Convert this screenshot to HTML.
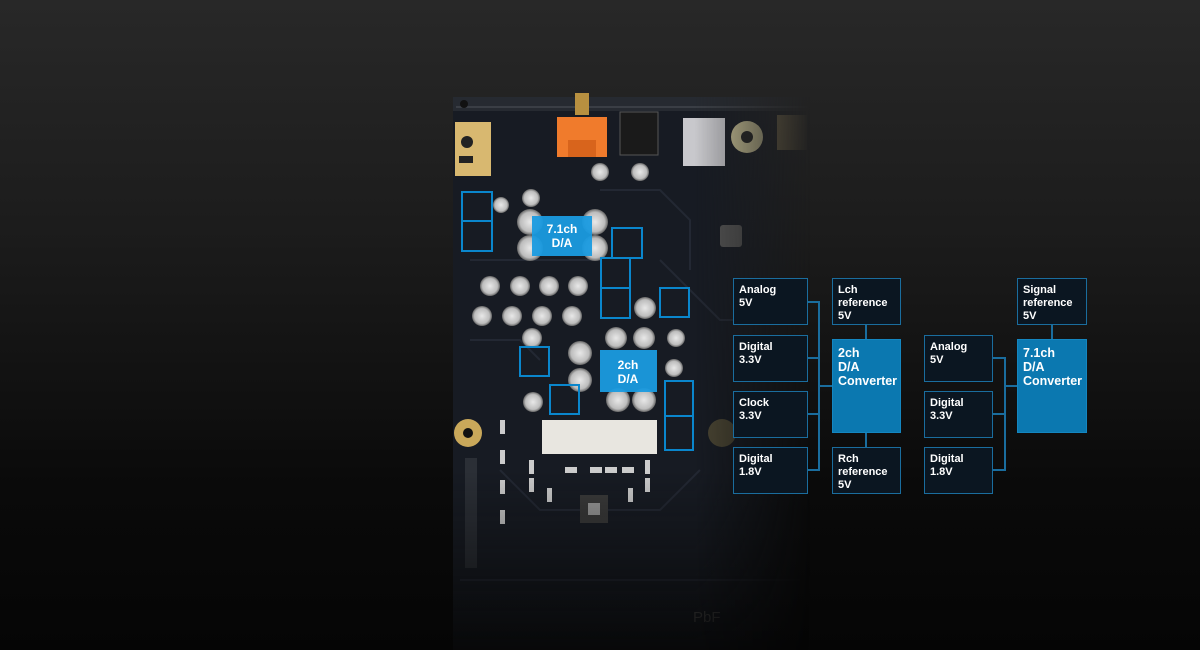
<!DOCTYPE html>
<html><head><meta charset="utf-8"><style>
html,body{margin:0;padding:0}
body{width:1200px;height:650px;overflow:hidden;position:relative;background:linear-gradient(#282828 0%,#1c1c1c 35%,#0a0a0a 75%,#050505 100%);font-family:"Liberation Sans",sans-serif}
.b{position:absolute;box-sizing:border-box;border:1.5px solid #1a6d9e;background:#0b1621;color:#fff;font-weight:bold;font-size:11px;line-height:13px;padding:5px 0 0 5px}
.c{background:#0b78b0;border-color:#1486c0;font-size:12.5px;line-height:14px;padding:6px 0 0 5px}
.l{position:absolute;background:#1a6d9e}
</style></head><body>
<svg width="1200" height="650" style="position:absolute;left:0;top:0">
<defs>
<linearGradient id="fade" x1="0" x2="1" y1="0" y2="0">
<stop offset="0" stop-color="#fff" stop-opacity="1"/>
<stop offset="0.68" stop-color="#fff" stop-opacity="1"/>
<stop offset="1" stop-color="#fff" stop-opacity="0"/>
</linearGradient>
<linearGradient id="fadev" x1="0" x2="0" y1="0" y2="1">
<stop offset="0" stop-color="#fff" stop-opacity="1"/>
<stop offset="0.68" stop-color="#fff" stop-opacity="1"/>
<stop offset="1" stop-color="#fff" stop-opacity="0.15"/>
</linearGradient>
<mask id="m"><rect x="450" y="90" width="360" height="560" fill="url(#fade)"/></mask>
<mask id="m2"><rect x="450" y="90" width="360" height="560" fill="url(#fadev)"/></mask>
<radialGradient id="cap"><stop offset="0" stop-color="#e8e8e8"/><stop offset="0.75" stop-color="#bdbdbd"/><stop offset="1" stop-color="#666"/></radialGradient>
</defs>
<g mask="url(#m)"><g mask="url(#m2)">
<rect x="453" y="97" width="360" height="560" rx="8" fill="#171b23"/>
<rect x="453" y="97" width="360" height="14" fill="#262a31"/>
<rect x="456" y="106" width="354" height="2" fill="#3a3e45"/>
<circle cx="464" cy="104" r="4" fill="#111"/>
<g stroke="#232833" stroke-width="2" fill="none">
<path d="M600 190 L660 190 L690 220 L690 270"/><path d="M660 260 L720 320 L740 320"/>
<path d="M470 260 L600 260"/><path d="M470 340 L520 340 L540 360"/>
<path d="M500 470 L540 510 L660 510 L700 470"/><path d="M460 580 L800 580"/>
</g>
<rect x="455" y="122" width="36" height="54" fill="#d8b870"/>
<circle cx="467" cy="142" r="6" fill="#222"/>
<rect x="459" y="156" width="14" height="7" fill="#222"/>
<rect x="575" y="93" width="14" height="22" fill="#b89040"/>
<rect x="557" y="117" width="50" height="40" fill="#f07b2c"/>
<rect x="568" y="140" width="28" height="17" fill="#d8641c"/>
<rect x="620" y="112" width="38" height="43" fill="#1a1a1a" stroke="#555"/>
<rect x="683" y="118" width="42" height="48" fill="#c8c8cc"/>
<circle cx="747" cy="137" r="16" fill="#cfc79a"/><circle cx="747" cy="137" r="6" fill="#222"/>
<rect x="777" y="115" width="30" height="35" fill="#8a7a55"/>
<rect x="720" y="225" width="22" height="22" rx="3" fill="#555"/>
<g fill="url(#cap)">
<circle cx="600" cy="172" r="9"/><circle cx="640" cy="172" r="9"/>
<circle cx="531" cy="198" r="9"/><circle cx="501" cy="205" r="8"/>
<circle cx="530" cy="222" r="13"/><circle cx="595" cy="222" r="13"/>
<circle cx="530" cy="248" r="13"/><circle cx="595" cy="248" r="13"/>
<circle cx="490" cy="286" r="10"/><circle cx="520" cy="286" r="10"/><circle cx="549" cy="286" r="10"/><circle cx="578" cy="286" r="10"/>
<circle cx="482" cy="316" r="10"/><circle cx="512" cy="316" r="10"/><circle cx="542" cy="316" r="10"/><circle cx="572" cy="316" r="10"/>
<circle cx="645" cy="308" r="11"/><circle cx="616" cy="338" r="11"/><circle cx="644" cy="338" r="11"/>
<circle cx="532" cy="338" r="10"/><circle cx="580" cy="353" r="12"/><circle cx="580" cy="380" r="12"/>
<circle cx="676" cy="338" r="9"/><circle cx="674" cy="368" r="9"/>
<circle cx="533" cy="402" r="10"/><circle cx="618" cy="400" r="12"/><circle cx="644" cy="400" r="12"/>
</g>
<rect x="542" y="420" width="115" height="34" fill="#e8e6e0"/>
<g fill="#ccc"><rect x="565" y="467" width="12" height="6"/><rect x="590" y="467" width="12" height="6"/><rect x="605" y="467" width="12" height="6"/><rect x="622" y="467" width="12" height="6"/>
<rect x="529" y="460" width="5" height="14"/><rect x="529" y="478" width="5" height="14"/><rect x="645" y="460" width="5" height="14"/><rect x="645" y="478" width="5" height="14"/>
<rect x="547" y="488" width="5" height="14"/><rect x="628" y="488" width="5" height="14"/><rect x="500" y="420" width="5" height="14"/><rect x="500" y="450" width="5" height="14"/><rect x="500" y="480" width="5" height="14"/><rect x="500" y="510" width="5" height="14"/></g>
<circle cx="468" cy="433" r="14" fill="#c9a85a"/><circle cx="468" cy="433" r="5" fill="#111"/>
<circle cx="722" cy="433" r="14" fill="#4a4533"/>
<rect x="580" y="495" width="28" height="28" fill="#3a3a3a"/><rect x="588" y="503" width="12" height="12" fill="#999"/>
<rect x="465" y="458" width="12" height="110" fill="#2b2f36"/>
<text x="693" y="622" fill="#555" font-size="15" font-family="Liberation Sans">PbF</text>
<g fill="none" stroke="#0a86cc" stroke-width="2">
<rect x="462" y="192" width="30" height="29"/><rect x="462" y="221" width="30" height="30"/>
<rect x="612" y="228" width="30" height="30"/><rect x="601" y="258" width="29" height="30"/><rect x="601" y="288" width="29" height="30"/>
<rect x="660" y="288" width="29" height="29"/><rect x="520" y="347" width="29" height="29"/><rect x="550" y="385" width="29" height="29"/>
<rect x="665" y="381" width="28" height="35"/><rect x="665" y="416" width="28" height="34"/>
</g>
</g></g>
<rect x="532" y="216" width="60" height="40" fill="#1a9be0" opacity="0.95"/>
<text x="562" y="233" fill="#fff" font-size="12" font-weight="bold" text-anchor="middle">7.1ch</text>
<text x="562" y="247" fill="#fff" font-size="12" font-weight="bold" text-anchor="middle">D/A</text>
<rect x="600" y="350" width="57" height="42" fill="#1a9be0" opacity="0.95"/>
<text x="628" y="369" fill="#fff" font-size="12" font-weight="bold" text-anchor="middle">2ch</text>
<text x="628" y="383" fill="#fff" font-size="12" font-weight="bold" text-anchor="middle">D/A</text>
</svg>

<div class="l" style="left:808px;top:301px;width:11px;height:2px"></div>
<div class="l" style="left:808px;top:357px;width:11px;height:2px"></div>
<div class="l" style="left:808px;top:413px;width:11px;height:2px"></div>
<div class="l" style="left:808px;top:469px;width:11px;height:2px"></div>
<div class="l" style="left:818px;top:301px;width:2px;height:170px"></div>
<div class="l" style="left:818px;top:385px;width:14px;height:2px"></div>
<div class="l" style="left:865px;top:325px;width:2px;height:14px"></div>
<div class="l" style="left:865px;top:433px;width:2px;height:14px"></div>
<div class="l" style="left:993px;top:357px;width:12px;height:2px"></div>
<div class="l" style="left:993px;top:413px;width:12px;height:2px"></div>
<div class="l" style="left:993px;top:469px;width:12px;height:2px"></div>
<div class="l" style="left:1004px;top:357px;width:2px;height:114px"></div>
<div class="l" style="left:1004px;top:385px;width:13px;height:2px"></div>
<div class="l" style="left:1051px;top:325px;width:2px;height:14px"></div>

<div class="b" style="left:733px;top:278px;width:75px;height:47px">Analog<br>5V</div>
<div class="b" style="left:733px;top:335px;width:75px;height:47px">Digital<br>3.3V</div>
<div class="b" style="left:733px;top:391px;width:75px;height:47px">Clock<br>3.3V</div>
<div class="b" style="left:733px;top:447px;width:75px;height:47px">Digital<br>1.8V</div>
<div class="b" style="left:832px;top:278px;width:69px;height:47px">Lch<br>reference<br>5V</div>
<div class="b c" style="left:832px;top:339px;width:69px;height:94px">2ch<br>D/A<br>Converter</div>
<div class="b" style="left:832px;top:447px;width:69px;height:47px">Rch<br>reference<br>5V</div>
<div class="b" style="left:924px;top:335px;width:69px;height:47px">Analog<br>5V</div>
<div class="b" style="left:924px;top:391px;width:69px;height:47px">Digital<br>3.3V</div>
<div class="b" style="left:924px;top:447px;width:69px;height:47px">Digital<br>1.8V</div>
<div class="b" style="left:1017px;top:278px;width:70px;height:47px">Signal<br>reference<br>5V</div>
<div class="b c" style="left:1017px;top:339px;width:70px;height:94px">7.1ch<br>D/A<br>Converter</div>
</body></html>
